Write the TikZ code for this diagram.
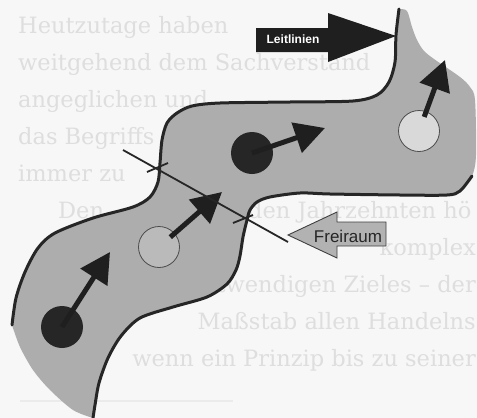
\documentclass[tikz,border=0pt]{standalone}
\usepackage{fontspec}
\setmainfont{DejaVu Serif}
\setsansfont{Liberation Sans}
\usetikzlibrary{arrows.meta}
\tikzset{
  band/.style={fill=black!32},
  rim/.style={draw=black!85,line width=3pt,line cap=round},
  dot/.style={circle,fill=black!85,minimum size=42pt,inner sep=0pt},
  ring/.style={circle,draw=black!70,line width=0.8pt,fill=black!15,minimum size=41pt,inner sep=0pt},
  hollow/.style={ring,fill=black!27},
  push/.style={draw=black!88,line width=5pt,-{Triangle[length=30pt,width=31pt]}},
  bleed/.style={inner sep=0pt,text=black!13,font=\fontsize{22.5}{22.5}\selectfont},
  cut/.style={draw=black!85,line width=1.8pt},
}
\begin{document}
\begin{tikzpicture}[x=1pt,y=-1pt]
  \useasboundingbox (0,0) rectangle (477,418);
  \clip (0,0) rectangle (477,418);
  \fill[black!3] (0,0) rectangle (477,418);
  \node[bleed,anchor=base west] (p1) at (18,33) {Heutzutage haben};
  \node[bleed,anchor=base west] (p2) at (18,70) {weitgehend dem Sachverstand};
  \node[bleed,anchor=base west] (p3) at (18,107) {angeglichen und};
  \node[bleed,anchor=base west] (p4) at (18,144) {das Begriffs};
  \node[bleed,anchor=base west] (p5) at (18,181) {immer zu};
  \node[bleed,anchor=base west] (p6) at (58,218) {Den};
  \node[bleed,anchor=base west] (p6r) at (248,218) {den Jahrzehnten hö};
  \node[bleed,anchor=base east] (p7) at (476,255) {komplex};
  \node[bleed,anchor=base east] (p8) at (476,292) {notwendigen Zieles – der};
  \node[bleed,anchor=base east] (p9) at (476,329) {Maßstab allen Handelns};
  \node[bleed,anchor=base east] (p10) at (476,366) {wenn ein Prinzip bis zu seiner};
  \draw[black!8,line width=1.5pt] (20,401) -- (233,401);
  \fill[band] plot[smooth] coordinates {(12,325) (16,298) (25,272) (38,248) (55,233) (93,218) (133,207) (150,197) (158,182) (160,163) (162,140) (167,123) (177,113) (192,106) (220,103) (290,102) (353,101) (377,95) (389,82) (395,62) (396,35) (399,9)}
    -- plot[smooth] coordinates {(399,9) (407,11) (412,27) (417,40) (424,51) (434,59) (460,77) (470,87) (475,100) (476,155) (472,176) (460,191) (447,195)}
    -- plot[smooth] coordinates {(447,195) (400,195) (330,194) (300,193) (270,197) (257,202) (250,210) (247,220) (243,237) (240,256) (236,270) (227,284) (207,297) (173,307) (140,318) (121,336) (108,358) (99,383) (95,405) (93,418)}
    -- plot[smooth] coordinates {(93,418) (73,410) (50,390) (33,370) (20,347) (12,325)}
    -- cycle;
  \foreach \n/\x/\y/\s in {c1/62/327/dot, c2/159/247/hollow, c3/252/153/dot, c4/419/131/ring} {
    \node[\s] (\n) at (\x,\y) {};
  }
  \coordinate (t1) at (110,252);
  \coordinate (t2) at (222,192);
  \coordinate (t3) at (325,128);
  \coordinate (t4) at (445,60);
  \draw[push] (c1.center) -- (t1);
  \draw[push,shorten <=15pt] (c2.center) -- (t2);
  \draw[push] (c3.center) -- (t3);
  \draw[push,shorten <=15pt] (c4.center) -- (t4);
  \draw[rim] plot[smooth] coordinates {(12,325) (16,298) (25,272) (38,248) (55,233) (93,218) (133,207) (150,197) (158,182) (160,163) (162,140) (167,123) (177,113) (192,106) (220,103) (290,102) (353,101) (377,95) (389,82) (395,62) (396,35) (399,9)};
  \draw[rim] plot[smooth] coordinates {(472,176) (460,191) (447,195) (400,195) (330,194) (300,193) (270,197) (257,202) (250,210) (247,220) (243,237) (240,256) (236,270) (227,284) (207,297) (173,307) (140,318) (121,336) (108,358) (99,383) (95,405) (93,418)};
  \coordinate (a1) at (123,150);
  \coordinate (a2) at (288,242);
  \coordinate (k1) at (147,172);
  \coordinate (k2) at (168,163);
  \coordinate (k3) at (233,223);
  \coordinate (k4) at (253,215);
  \draw[cut] (a1) -- (a2);
  \draw[cut] (k1) -- (k2);
  \draw[cut] (k3) -- (k4);
  \fill[black!88] (256,28) -- (328,28) -- (328,13) -- (396,36) -- (328,62) -- (328,52) -- (256,52) -- cycle;
  \node[text=white,font=\sffamily\bfseries\fontsize{12}{12}\selectfont,inner sep=0pt] (lead) at (293,39) {Leitlinien};
  \filldraw[fill=black!30,draw=black!75,line width=0.9pt] (288,235) -- (337,212) -- (337,222) -- (386,222) -- (386,246) -- (337,246) -- (337,258) -- cycle;
  \node[font=\sffamily\fontsize{17}{17}\selectfont,text=black!85,inner sep=0pt,anchor=base] (free) at (348,242) {Freiraum};
\end{tikzpicture}
\end{document}
